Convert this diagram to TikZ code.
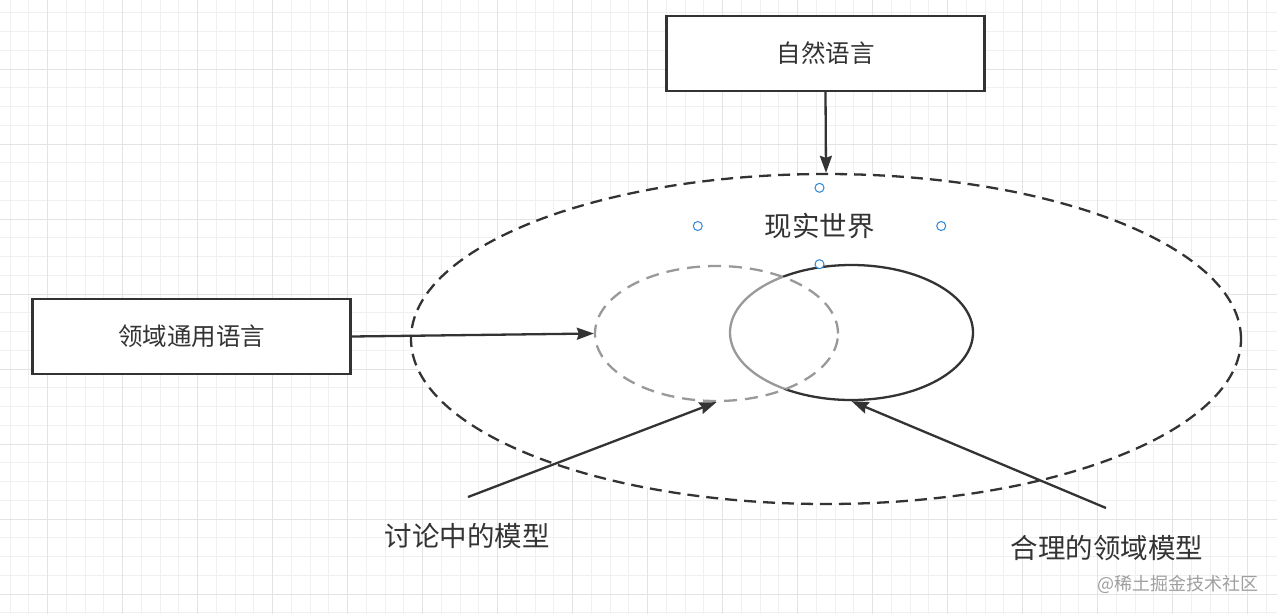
\documentclass[tikz,border=0pt]{standalone}
\usepackage{fontspec}
\newfontfamily\cjk{Noto Sans CJK SC}
\usetikzlibrary{shapes.geometric, arrows.meta, positioning}
\definecolor{ink}{HTML}{333333}
\definecolor{soft}{HTML}{999999}
\definecolor{handle}{HTML}{2D86D8}
\definecolor{gridminor}{HTML}{F0F0F0}
\definecolor{gridmajor}{HTML}{E3E3E3}

\begin{document}
\begin{tikzpicture}[x=1pt, y=-1pt,
    box/.style={draw=ink, line width=2.4pt, fill=white, minimum width=318pt, minimum height=75pt, inner sep=0pt, text=ink, font=\cjk\fontsize{24.5}{28}\selectfont},
    note/.style={text=ink, inner sep=0pt, font=\cjk\fontsize{27.5}{32}\selectfont},
    oval/.style={ellipse, line width=2.3pt, inner sep=0pt},
    arr/.style={draw=ink, line width=2.3pt, -{Stealth[length=17pt, width=12pt, inset=2pt]}},
    minorgrid/.style={draw=gridminor, line width=1pt},
    majorgrid/.style={draw=gridmajor, line width=1pt},
]
    \useasboundingbox (0,0) rectangle (1277,614);
    \fill[white] (0,0) rectangle (1277,614);

    % background grid
    \foreach \k in {0,...,67} \draw[minorgrid] ({10.2+18.75*\k},0) -- ++(0,614);
    \foreach \k in {0,...,32} \draw[minorgrid] (0,{12.75+18.75*\k}) -- ++(1277,0);
    \foreach \k in {0,...,16} \draw[majorgrid] ({47.7+75*\k},0) -- ++(0,614);
    \foreach \k in {0,...,7} \draw[majorgrid] (0,{69+75*\k}) -- ++(1277,0);

    \node[oval, draw=ink, fill=white, dash pattern=on 12pt off 7pt, minimum width=830pt, minimum height=330pt] (reality) at (826,339) {};
    \node[oval, draw=ink, fill=white, minimum width=243pt, minimum height=135pt] (domain) at (851.5,332.5) {};
    \node[oval, draw=soft, fill=white, fill opacity=0.5, dash pattern=on 13pt off 8pt, minimum width=243pt, minimum height=135pt] (talk) at (716.5,333.5) {};

    \node[note, minimum width=243pt, minimum height=76pt] (world) at (819.5,226) {现实世界};
    \foreach \a in {north,south,east,west}
        \draw[handle, fill=white, line width=1pt] (world.\a) circle (4.5pt);

    \node[box] (natural) at (825.5,53.5) {自然语言};
    \node[box] (general) at (191.5,336.5) {领域通用语言};

    \node[note] (disc) at (467,536) {讨论中的模型};
    \node[note] (fit) at (1107,548) {合理的领域模型};
    \coordinate (disctail) at (468,497);
    \coordinate (fittail) at (1106,508);

    \draw[arr] (natural.south) -- (reality.north);
    \draw[arr] (general.east) -- (talk.west);
    \draw[arr] (disctail) -- (talk.south);
    \draw[arr] (fittail) -- (domain.south);

    \node[text=gray!75, inner sep=0pt, font=\cjk\fontsize{18}{20}\selectfont] (mark) at (1178,584) {@稀土掘金技术社区};
\end{tikzpicture}
\end{document}
